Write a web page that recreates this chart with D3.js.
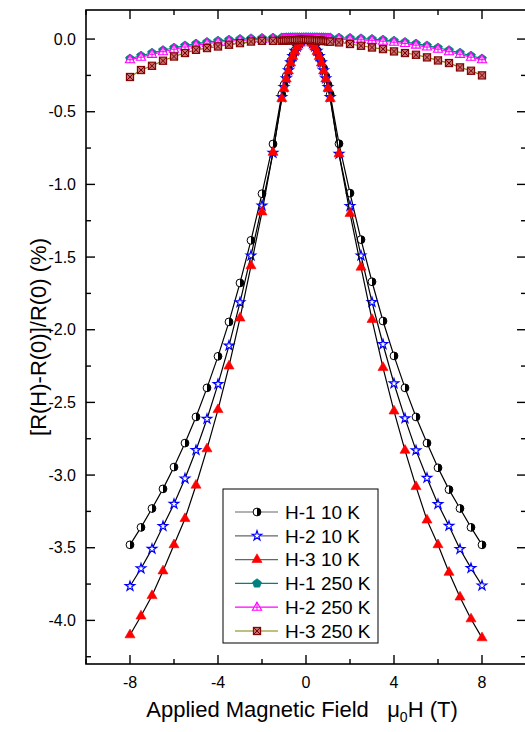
<!DOCTYPE html>
<html>
<head>
<meta charset="utf-8">
<script src="https://cdn.jsdelivr.net/npm/d3@7"></script>
<style>
  body { margin: 0; background: #fff; }
  text { font-family: Arial, "Liberation Sans", sans-serif; }
</style>
</head>
<body>
<div id="plot"></div>
<script>
// field values (T), shared by all six sweeps
const field = [-8,-7.5,-7,-6.5,-6,-5.5,-5,-4.5,-4,-3.5,-3,-2.5,-2,-1.5,
  -1.1,-1,-0.9,-0.8,-0.7,-0.6,-0.5,-0.4,-0.3,-0.2,-0.1,0,0.1,0.2,0.3,0.4,0.5,0.6,0.7,0.8,0.9,1,1.1,
  1.5,2,2.5,3,3.5,4,4.5,5,5.5,6,6.5,7,7.5,8];

// MR values (%)
const h1_10K = [-3.48,-3.36,-3.23,-3.095,-2.945,-2.78,-2.60,-2.40,-2.183,-1.946,-1.678,-1.385,-1.064,-0.722,
  -0.38,-0.315,-0.255,-0.20,-0.152,-0.112,-0.078,-0.05,-0.028,-0.012,-0.003,0,-0.003,-0.012,-0.028,-0.05,-0.078,-0.112,-0.152,-0.20,-0.255,-0.315,-0.38,
  -0.72,-1.06,-1.38,-1.67,-1.94,-2.18,-2.40,-2.60,-2.78,-2.95,-3.10,-3.23,-3.36,-3.48];
const h2_10K = [-3.765,-3.643,-3.508,-3.352,-3.199,-3.024,-2.829,-2.614,-2.374,-2.109,-1.812,-1.49,-1.146,-0.784,
  -0.40,-0.33,-0.27,-0.215,-0.16,-0.118,-0.082,-0.052,-0.029,-0.013,-0.003,0,-0.003,-0.013,-0.029,-0.052,-0.082,-0.118,-0.16,-0.215,-0.27,-0.33,-0.40,
  -0.79,-1.15,-1.49,-1.81,-2.10,-2.37,-2.61,-2.83,-3.02,-3.20,-3.35,-3.51,-3.64,-3.76];
const h3_10K = [-4.10,-3.97,-3.83,-3.66,-3.48,-3.30,-3.07,-2.82,-2.55,-2.25,-1.92,-1.56,-1.19,-0.78,
  -0.41,-0.34,-0.275,-0.22,-0.165,-0.12,-0.085,-0.055,-0.03,-0.014,-0.004,0,-0.004,-0.014,-0.03,-0.055,-0.085,-0.12,-0.165,-0.22,-0.275,-0.34,-0.41,
  -0.79,-1.20,-1.57,-1.93,-2.26,-2.56,-2.83,-3.08,-3.31,-3.48,-3.67,-3.84,-3.99,-4.12];
const h1_250K = [-0.135,-0.115,-0.095,-0.077,-0.060,-0.045,-0.032,-0.021,-0.012,-0.005,0,0.004,0.007,0.009,
  0.010,0.010,0.011,0.011,0.012,0.012,0.012,0.012,0.012,0.012,0.012,0.012,0.012,0.012,0.012,0.012,0.012,0.011,0.011,0.011,0.010,0.010,0.010,
  0.009,0.007,0.004,0,-0.005,-0.012,-0.021,-0.032,-0.045,-0.060,-0.077,-0.095,-0.115,-0.135];
const h2_250K = [-0.142,-0.125,-0.105,-0.087,-0.070,-0.055,-0.042,-0.031,-0.022,-0.015,-0.009,-0.005,-0.002,0,
  0,0.001,0.001,0.001,0.002,0.002,0.002,0.002,0.002,0.002,0.002,0.002,0.002,0.002,0.002,0.002,0.002,0.002,0.001,0.001,0.001,0.001,0,
  0,-0.002,-0.005,-0.009,-0.015,-0.022,-0.031,-0.042,-0.055,-0.070,-0.087,-0.105,-0.125,-0.142];
const h3_250K = [-0.261,-0.213,-0.184,-0.149,-0.120,-0.096,-0.074,-0.062,-0.051,-0.039,-0.028,-0.017,-0.012,-0.012,
  -0.012,-0.011,-0.010,-0.009,-0.008,-0.008,-0.007,-0.006,-0.006,-0.005,-0.005,-0.005,-0.006,-0.006,-0.007,-0.008,-0.009,-0.010,-0.011,-0.013,-0.014,-0.016,-0.018,
  -0.023,-0.034,-0.046,-0.058,-0.069,-0.085,-0.096,-0.108,-0.126,-0.147,-0.165,-0.195,-0.218,-0.250];

const seriesNames = ["H-1 10 K", "H-2 10 K", "H-3 10 K", "H-1 250 K", "H-2 250 K", "H-3 250 K"];
const xTicks = [-8, -4, 0, 4, 8];
const yTicks = [0, -0.5, -1, -1.5, -2, -2.5, -3, -3.5, -4];

const W = 525, H = 732;
const margin = {top: 10, right: -1, bottom: 68, left: 86};

const svg = d3.select("#plot").append("svg")
    .attr("width", W)
    .attr("height", H);

const x = d3.scaleLinear().domain([-10, 10]).range([margin.left, W - margin.right]);
const y = d3.scaleLinear().domain([0.2, -4.3]).range([margin.top, H - margin.bottom]);

// plain hyphen for negatives, like the original figure
const fmtX = d => String(d);
const fmtY = d => d.toFixed(1);

// marker drawers
const sym = {
  half: (g) => {
    g.append("circle").attr("r", 3.9).attr("fill", "#fff").attr("stroke", "#000").attr("stroke-width", 1);
    g.append("path").attr("d", "M0,-3.9A3.9,3.9 0 0 1 0,3.9Z").attr("fill", "#000");
  },
  star: (g) => {
    g.append("path").attr("d", d3.symbol(d3.symbolStar, 28)()).attr("fill", "#fff")
      .attr("stroke", "#0000ff").attr("stroke-width", 1.2);
  },
  tri: (g) => {
    g.append("path").attr("d", d3.symbol(d3.symbolTriangle, 44)()).attr("fill", "#ff0000")
      .attr("stroke", "#ff0000").attr("stroke-width", 0.6);
  },
  pent: (g) => {
    const r = 4.6;
    const pts = d3.range(5).map(i => {
      const a = -Math.PI / 2 + i * 2 * Math.PI / 5;
      return [r * Math.cos(a), r * Math.sin(a)];
    });
    g.append("path").attr("d", "M" + pts.join("L") + "Z").attr("fill", "#008080")
      .attr("stroke", "#008080").attr("stroke-width", 0.8);
  },
  openTri: (g) => {
    g.append("path").attr("d", "M0,-5L4.6,3L-4.6,3Z").attr("fill", "#fff")
      .attr("stroke", "#ff00ff").attr("stroke-width", 1.1);
    g.append("path").attr("d", "M0,-5V3M-2.5,0H2.5").attr("stroke", "#ff00ff").attr("stroke-width", 1);
  },
  xsq: (g) => {
    g.append("rect").attr("x", -3.6).attr("y", -3.6).attr("width", 7.2).attr("height", 7.2)
      .attr("fill", "#c07070").attr("stroke", "#800000").attr("stroke-width", 1.1);
    g.append("path").attr("d", "M-3.6,-3.6L3.6,3.6M3.6,-3.6L-3.6,3.6").attr("stroke", "#800000").attr("stroke-width", 1);
  }
};

const series = [
  {name: seriesNames[0], vals: h1_10K, line: "#000", legendLine: "#666", marker: sym.half},
  {name: seriesNames[1], vals: h2_10K, line: "#000", legendLine: "#666", marker: sym.star},
  {name: seriesNames[2], vals: h3_10K, line: "#000", legendLine: "#666", marker: sym.tri},
  {name: seriesNames[3], vals: h1_250K, line: "#008080", legendLine: "#008080", marker: sym.pent},
  {name: seriesNames[4], vals: h2_250K, line: "#ff00ff", legendLine: "#ff00ff", marker: sym.openTri},
  {name: seriesNames[5], vals: h3_250K, line: "#808000", legendLine: "#808000", marker: sym.xsq}
];

const line = d3.line().x(d => x(d[0])).y(d => y(d[1]));

series.forEach(s => {
  const pts = field.map((f, i) => [f, s.vals[i]]);
  svg.append("path").datum(pts)
    .attr("d", line)
    .attr("fill", "none")
    .attr("stroke", s.line)
    .attr("stroke-width", 1.2);
  svg.append("g").selectAll("g")
    .data(pts)
    .join("g")
    .attr("transform", d => `translate(${x(d[0])},${y(d[1])})`)
    .each(function() { s.marker(d3.select(this)); });
});

// frame
const x0 = x(-10), x1 = x(10), y0 = y(0.2), y1 = y(-4.3);
svg.append("rect")
  .attr("x", x0).attr("y", y0)
  .attr("width", x1 - x0).attr("height", y1 - y0)
  .attr("fill", "none").attr("stroke", "#000").attr("stroke-width", 1.6);

// ticks (inward, all four sides)
const ticks = svg.append("g").attr("stroke", "#000").attr("stroke-width", 1.4);
d3.range(-10, 10.01, 2).forEach(v => {
  const len = (v % 4 === 0) ? 9 : 5;
  ticks.append("line").attr("x1", x(v)).attr("x2", x(v)).attr("y1", y1).attr("y2", y1 - len);
  ticks.append("line").attr("x1", x(v)).attr("x2", x(v)).attr("y1", y0).attr("y2", y0 + len);
});
d3.range(0, -4.31, -0.25).forEach(v => {
  const len = (Math.round(v * 4) % 2 === 0) ? 9 : 5;
  ticks.append("line").attr("x1", x0).attr("x2", x0 + len).attr("y1", y(v)).attr("y2", y(v));
  ticks.append("line").attr("x1", x1).attr("x2", x1 - len).attr("y1", y(v)).attr("y2", y(v));
});

svg.append("g").selectAll("text")
  .data(xTicks)
  .join("text")
  .attr("x", d => x(d))
  .attr("y", y1 + 24)
  .attr("text-anchor", "middle")
  .attr("font-size", 16)
  .text(fmtX);

svg.append("g").selectAll("text")
  .data(yTicks)
  .join("text")
  .attr("x", x0 - 10)
  .attr("y", d => y(d))
  .attr("dy", "0.35em")
  .attr("text-anchor", "end")
  .attr("font-size", 16)
  .text(fmtY);

// axis titles
const xt = svg.append("text")
  .attr("x", 302)
  .attr("y", 717)
  .attr("text-anchor", "middle")
  .attr("font-size", 22);
xt.append("tspan").text("Applied Magnetic Field\u00a0\u00a0\u00a0\u03bc");
xt.append("tspan").attr("font-size", 14).attr("dy", 5).text("0");
xt.append("tspan").attr("dy", -5).text("H (T)");

svg.append("text")
  .attr("transform", `translate(46,${(y0 + y1) / 2}) rotate(-90)`)
  .attr("text-anchor", "middle")
  .attr("font-size", 22)
  .text("[R(H)-R(0)]/R(0) (%)");

// legend
const lg = svg.append("g");
lg.append("rect")
  .attr("x", 223).attr("y", 489)
  .attr("width", 155).attr("height", 154)
  .attr("fill", "#fff").attr("stroke", "#000").attr("stroke-width", 1);
series.forEach((s, i) => {
  const ly = 512 + i * 23.8;
  lg.append("line").attr("x1", 235).attr("x2", 278).attr("y1", ly).attr("y2", ly)
    .attr("stroke", s.legendLine).attr("stroke-width", 1.2);
  s.marker(lg.append("g").attr("transform", `translate(257,${ly})`));
  lg.append("text").attr("x", 285).attr("y", ly).attr("dy", "0.36em")
    .attr("font-size", 19).text(s.name);
});
</script>
</body>
</html>
